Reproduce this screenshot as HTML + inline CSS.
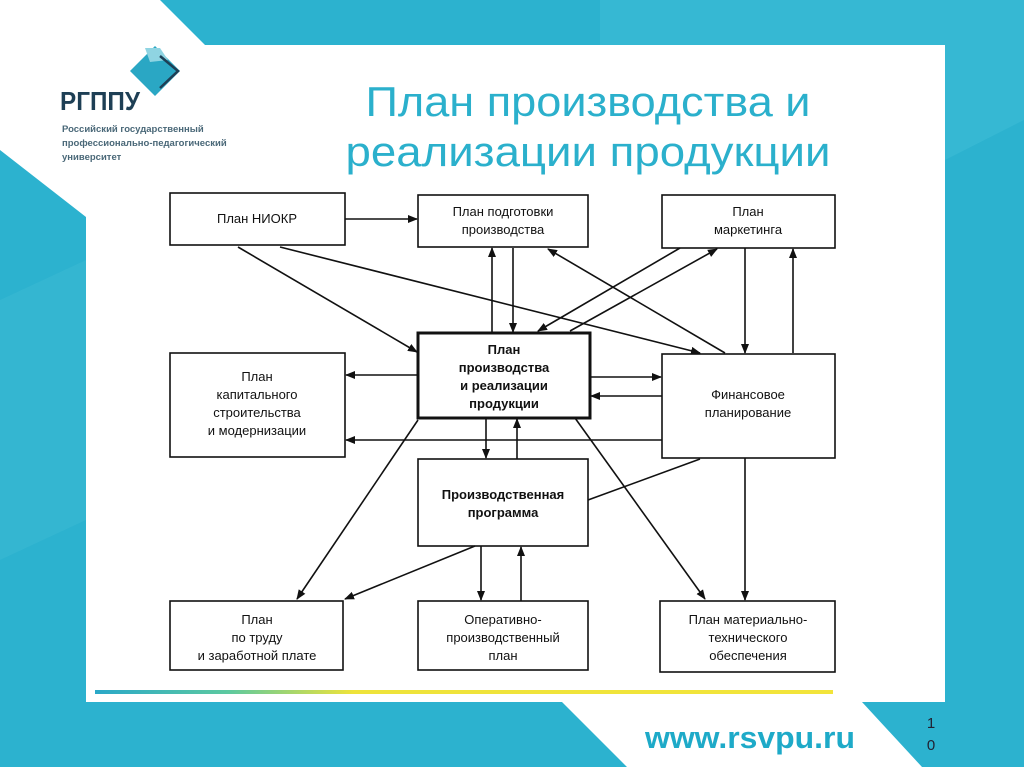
<!DOCTYPE html>
<html><head><meta charset="utf-8"><style>
html,body{margin:0;padding:0;width:1024px;height:767px;overflow:hidden;background:#2cb2cf;font-family:"Liberation Sans",sans-serif}
svg{position:absolute;left:0;top:0}
</style></head><body>
<svg width="1024" height="767" viewBox="0 0 1024 767">
<defs>
<marker id="a" markerWidth="10" markerHeight="10" refX="9" refY="5" orient="auto" markerUnits="userSpaceOnUse"><path d="M0,1 L10,5 L0,9 z" fill="#111"/></marker>
<linearGradient id="g" x1="0" x2="1"><stop offset="0" stop-color="#2aa8c8"/><stop offset="0.18" stop-color="#5cc9a0"/><stop offset="0.35" stop-color="#eee33a"/><stop offset="1" stop-color="#f2e43a"/></linearGradient>
</defs>
<rect width="1024" height="767" fill="#2cb2cf"/>
<polygon points="600,0 1024,0 1024,120 945,160 945,45 600,45" fill="#3dbdd6" opacity="0.6"/>
<polygon points="0,300 86,260 86,520 0,560" fill="#3bbad4" opacity="0.5"/>
<polygon points="0,0 160,0 205,45 945,45 945,702 862,702 922,767 627,767 562,702 86,702 86,217 0,150" fill="#fff"/>
<!-- logo -->
<polygon points="155,46 180,71 155,96 130,71" fill="#2aa7c4"/>
<polygon points="145,48 160,48 168,60 150,62" fill="#8fd4e2"/>
<polyline points="160,56 178,71 160,88" fill="none" stroke="#1e3f55" stroke-width="2.5"/>
<text x="60" y="110" font-size="26" font-weight="bold" fill="#1e3f55" textLength="80" lengthAdjust="spacingAndGlyphs">РГППУ</text>
<g font-size="9.5" font-weight="bold" fill="#4a6878">
<text x="62" y="132">Российский государственный</text>
<text x="62" y="146">профессионально-педагогический</text>
<text x="62" y="160">университет</text>
</g>
<g font-size="42" fill="#2bb0cc" text-anchor="middle">
<text x="588" y="116" textLength="445" lengthAdjust="spacingAndGlyphs">План производства и</text>
<text x="588" y="166" textLength="485" lengthAdjust="spacingAndGlyphs">реализации продукции</text>
</g>
<!-- boxes -->
<g fill="#fff" stroke="#111" stroke-width="1.6">
<rect x="170" y="193" width="175" height="52"/>
<rect x="418" y="195" width="170" height="52"/>
<rect x="662" y="195" width="173" height="53"/>
<rect x="418" y="333" width="172" height="85" stroke-width="3"/>
<rect x="170" y="353" width="175" height="104"/>
<rect x="662" y="354" width="173" height="104"/>
<rect x="418" y="459" width="170" height="87"/>
<rect x="170" y="601" width="173" height="69"/>
<rect x="418" y="601" width="170" height="69"/>
<rect x="660" y="601" width="175" height="71"/>
</g>
<g font-size="13" fill="#111" text-anchor="middle">
<text x="257" y="223">План НИОКР</text>
<text x="503" y="216">План подготовки</text><text x="503" y="234">производства</text>
<text x="748" y="216">План</text><text x="748" y="234">маркетинга</text>
<g font-weight="bold"><text x="504" y="354">План</text><text x="504" y="372">производства</text><text x="504" y="390">и реализации</text><text x="504" y="408">продукции</text></g>
<text x="257" y="381">План</text><text x="257" y="399">капитального</text><text x="257" y="417">строительства</text><text x="257" y="435">и модернизации</text>
<text x="748" y="399">Финансовое</text><text x="748" y="417">планирование</text>
<g font-weight="bold"><text x="503" y="499">Производственная</text><text x="503" y="517">программа</text></g>
<text x="257" y="624">План</text><text x="257" y="642">по труду</text><text x="257" y="660">и заработной плате</text>
<text x="503" y="624">Оперативно-</text><text x="503" y="642">производственный</text><text x="503" y="660">план</text>
<text x="748" y="624">План материально-</text><text x="748" y="642">технического</text><text x="748" y="660">обеспечения</text>
</g>
<g stroke="#111" stroke-width="1.6" fill="none" marker-end="url(#a)">
<line x1="345" y1="219" x2="417" y2="219"/>
<line x1="238" y1="247" x2="417" y2="352"/>
<line x1="280" y1="247" x2="700" y2="353"/>
<line x1="492" y1="333" x2="492" y2="248"/>
<line x1="513" y1="248" x2="513" y2="332"/>
<line x1="680" y1="248" x2="538" y2="331"/>
<line x1="570" y1="331" x2="717" y2="249"/>
<line x1="725" y1="353" x2="548" y2="249"/>
<line x1="745" y1="248" x2="745" y2="353"/>
<line x1="793" y1="353" x2="793" y2="249"/>
<line x1="418" y1="375" x2="346" y2="375"/>
<line x1="590" y1="377" x2="661" y2="377"/>
<line x1="662" y1="396" x2="591" y2="396"/>
<line x1="662" y1="440" x2="346" y2="440"/>
<line x1="486" y1="418" x2="486" y2="458"/>
<line x1="517" y1="459" x2="517" y2="419"/>
<line x1="418" y1="420" x2="297" y2="599"/>
<line x1="575" y1="418" x2="705" y2="599"/>
<line x1="745" y1="458" x2="745" y2="600"/>
<line x1="475" y1="546" x2="345" y2="599"/>
<line x1="481" y1="546" x2="481" y2="600"/>
<line x1="521" y1="601" x2="521" y2="547"/>
</g>
<line x1="700" y1="459" x2="588" y2="500" stroke="#111" stroke-width="1.6"/>
<rect x="95" y="690" width="738" height="4" fill="url(#g)"/>
<text x="645" y="748" font-size="31" font-weight="bold" fill="#1eaac8" textLength="210" lengthAdjust="spacingAndGlyphs">www.rsvpu.ru</text>
<g font-size="15" fill="#223" text-anchor="middle"><text x="931" y="728">1</text><text x="931" y="750">0</text></g>
</svg>
</body></html>
